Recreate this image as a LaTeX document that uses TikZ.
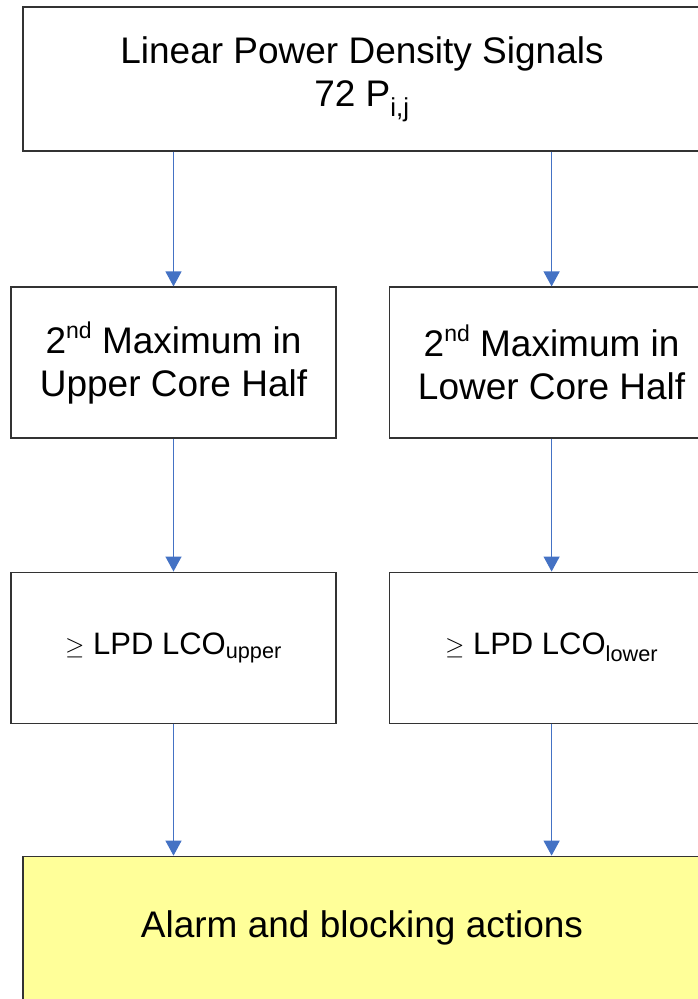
\documentclass[tikz,border=0pt]{standalone}
\usepackage{fontspec}
\setmainfont{Liberation Sans}
\usetikzlibrary{arrows.meta,positioning}

\definecolor{linkblue}{RGB}{68,114,196}
\definecolor{alarmyellow}{RGB}{255,255,153}
\newcommand{\ordsup}[1]{\raisebox{15pt}{\fontsize{23}{23}\selectfont #1}}

\begin{document}
\begin{tikzpicture}[node distance=133pt,
 block/.style = {draw=black!80, line width=1.1pt, rectangle, minimum height=151pt, minimum width=325pt, align=center, inner sep=0pt, font=\fontsize{37}{43}\selectfont},
 bigblock/.style = {block, minimum height=144pt, minimum width=678pt},
 lcoblock/.style = {block, font=\fontsize{31}{36}\selectfont},
 link/.style = {linkblue, line width=1.2pt, -{Triangle[length=15pt,width=16pt]}},
                        ]
    \clip (0pt,0pt) rectangle (698pt,-999pt);
    \node [bigblock]                      (signals)   at (362pt,-79pt) {Linear Power Density Signals\\ 72 P\textsubscript{i,j}};
    \node [block]                         (upperhalf) at (173.5pt,-362.5pt) {2\ordsup{nd} Maximum in\\ Upper Core Half};
    \node [block, right=52pt of upperhalf] (lowerhalf) {2\ordsup{nd} Maximum in\\ Lower Core Half};
    \node [lcoblock, below=of upperhalf]  (upperlco)  {$\geq$ LPD LCO\textsubscript{upper}};
    \node [lcoblock, below=of lowerhalf]  (lowerlco)  {$\geq$ LPD LCO\textsubscript{lower}};
    \coordinate (alarmtop) at (upperlco.south -| signals.south);
    \node [bigblock, fill=alarmyellow, below=132pt of alarmtop] (alarm) {Alarm and blocking actions};

%% paths
    \draw[link] (signals.south -| upperhalf.north) -- (upperhalf.north);
    \draw[link] (signals.south -| lowerhalf.north) -- (lowerhalf.north);
    \draw[link] (upperhalf.south) -- (upperlco.north);
    \draw[link] (lowerhalf.south) -- (lowerlco.north);
    \draw[link] (upperlco.south)  -- (alarm.north -| upperlco.south);
    \draw[link] (lowerlco.south)  -- (alarm.north -| lowerlco.south);
\end{tikzpicture}
\end{document}
